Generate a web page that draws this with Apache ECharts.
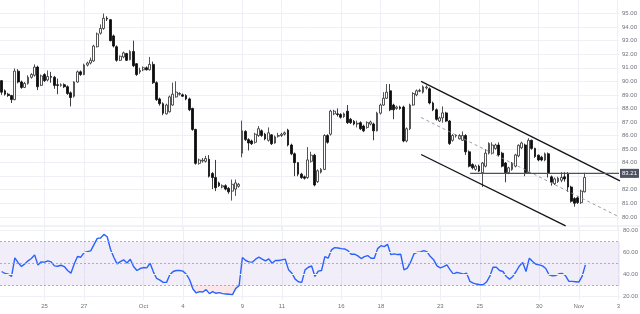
<!DOCTYPE html>
<html><head><meta charset="utf-8">
<script src="https://cdn.jsdelivr.net/npm/echarts@6/dist/echarts.min.js"></script>
<style>html,body{margin:0;padding:0;background:#fff}#c{width:640px;height:314px}</style>
</head><body><div id="c"></div>
<script>
// 4-hour candles, [open, close, low, high]
const ohlc = [
[90.05,89.2,89.0,90.1],[89.3,89.05,88.95,89.4],[89.05,88.95,88.85,89.15],[88.95,88.65,88.4,89.0],[88.65,90.75,88.6,90.95],
[90.75,89.95,89.85,90.9],[89.95,89.55,89.45,90.05],[89.55,89.85,89.5,89.95],[89.85,90.3,89.75,90.45],[90.3,90.5,90.2,90.6],
[90.45,91.05,90.35,91.25],[91.05,89.6,89.35,91.15],[89.7,90.4,89.65,90.5],
[90.5,90.05,89.95,90.6],[90.1,90.35,90.0,90.8],[90.35,90.3,89.9,90.7],[90.3,89.7,89.45,90.4],[89.75,89.7,89.05,90.2],[89.7,89.75,89.6,89.85],
[89.75,89.6,89.5,89.85],[89.6,89.1,89.0,89.7],[89.15,88.8,88.15,89.25],[88.9,89.95,88.8,90.0],[89.95,90.7,89.9,90.8],[90.7,90.5,90.4,90.8],
[90.5,91.2,90.45,91.3],[91.2,91.35,91.1,91.45],[91.35,91.55,91.25,91.75],[91.5,92.6,91.45,92.7],[92.55,93.5,92.5,93.6],[93.55,93.9,93.45,94.2],
[93.9,94.65,93.8,95.0],[94.65,94.6,94.45,94.8],[94.55,93.0,92.95,94.6],[93.35,92.6,92.5,93.45],[92.55,91.55,91.45,92.65],[91.55,91.85,91.5,91.9],
[91.8,92.1,91.7,92.2],[92.05,91.55,91.5,92.1],[91.6,92.2,91.55,92.3],[92.2,91.15,91.05,93.0],[91.3,90.5,90.4,91.35],[90.7,90.8,90.55,91.0],
[90.85,91.0,90.75,91.1],[91.0,90.85,90.8,91.1],[90.85,91.25,90.8,91.8],[91.25,89.9,89.8,91.45],[89.9,88.65,88.55,90.0],[88.7,88.35,88.2,88.8],
[88.35,87.65,87.5,88.45],[87.6,88.25,87.55,88.35],[87.75,88.85,87.7,88.95],[88.25,89.05,88.2,89.9],[88.85,89.2,88.8,90.0],[89.05,89.1,88.95,89.2],
[89.0,88.9,88.85,89.1],[88.95,88.7,88.6,89.05],[88.7,87.9,87.8,88.8],[88.0,86.45,86.35,88.05],[86.45,83.95,83.85,86.5],[83.95,84.2,83.85,84.3],
[84.12,84.18,84.0,84.35],[84.1,84.3,84.0,84.5],[84.25,83.0,82.9,84.55],[83.2,82.9,82.05,83.3],[82.9,82.15,81.9,84.2],[82.5,82.3,82.2,82.6],
[82.2,82.3,82.1,82.4],[82.3,82.05,81.95,82.4],[82.1,81.85,81.7,82.2],[81.9,82.4,81.2,82.75],[82.05,82.5,81.55,82.75],[82.25,82.4,82.15,82.5],
[84.7,86.35,84.4,87.1],[86.3,85.7,85.6,86.4],[85.7,85.45,84.9,85.8],[85.6,85.4,85.3,85.7],[85.5,86.1,85.4,86.2],[86.0,86.5,85.9,86.7],
[86.35,86.0,85.9,86.45],[86.1,85.75,85.65,86.2],[85.65,86.2,85.55,86.6],[86.05,85.4,85.3,86.1],[85.45,85.9,85.4,86.0],[85.95,86.0,85.85,86.2],
[86.0,86.1,85.9,86.2],[86.1,86.2,86.0,86.3],[86.4,85.3,85.2,86.5],[85.3,84.65,84.55,85.4],[84.65,84.0,83.0,84.75],[84.0,83.15,83.0,84.05],
[83.15,82.9,82.8,83.25],[82.95,82.85,82.75,83.05],[82.9,84.2,82.8,85.15],[84.1,84.55,84.0,84.8],[84.55,82.35,82.25,84.65],[82.6,83.4,82.5,83.5],
[83.3,83.5,83.2,83.6],[83.5,86.0,83.45,86.1],[86.0,85.5,85.4,86.1],[86.1,87.8,86.0,87.9],[87.6,87.8,87.5,87.9],[87.6,87.55,87.4,88.0],
[87.55,87.35,87.25,87.65],[87.4,87.6,87.3,87.7],[87.8,86.95,86.85,88.25],[87.2,86.95,86.85,87.3],[87.05,86.85,86.75,87.15],[86.85,86.9,86.6,87.1],
[86.95,86.5,86.4,87.05],[86.7,86.35,86.25,86.8],[86.6,86.95,86.5,87.05],[86.85,87.0,86.75,87.1],[86.85,86.35,85.65,86.95],[86.35,87.65,86.3,87.75],
[87.65,88.25,87.55,88.35],[88.25,88.75,88.2,89.2],[88.75,89.2,88.7,89.8],[89.3,87.9,87.8,89.8],[88.25,87.9,87.2,88.35],[88.0,88.1,87.9,88.2],
[88.1,88.0,87.9,88.2],[88.1,85.6,85.5,88.2],[85.6,86.5,85.5,86.6],[86.5,88.25,86.4,88.35],[88.25,89.1,88.2,89.2],[89.0,89.3,88.9,89.4],
[89.27,89.33,89.2,89.45],[89.2,89.6,89.1,89.7],[89.52,89.58,89.4,89.7],[89.45,88.4,88.3,89.55],[88.4,87.9,87.8,88.5],[87.9,87.2,87.1,88.0],
[87.07,87.3,87.0,87.4],[87.3,87.67,86.95,88.15],[87.67,87.07,87.0,87.75],[87.07,85.41,85.3,87.15],[85.65,86.0,85.55,86.1],[85.97,86.03,85.85,86.1],
[85.76,86.0,85.7,86.1],[85.65,86.0,85.6,86.3],[86.0,84.8,84.57,86.1],[84.8,83.74,83.65,84.9],[83.86,83.62,83.5,83.95],[83.5,83.74,83.4,83.85],
[83.74,83.38,83.3,83.85],[83.26,83.97,82.2,84.05],[83.74,84.7,83.65,85.0],[84.7,85.41,84.6,85.5],[84.7,85.3,84.6,85.5],[85.05,85.3,84.95,85.4],
[85.3,84.57,84.45,85.5],[84.7,83.74,83.65,84.8],[83.97,83.26,82.55,84.05],[83.26,83.62,83.15,83.7],[83.5,83.97,83.4,84.05],[83.74,84.57,83.65,84.65],
[84.5,85.28,84.4,85.35],[85.1,85.45,85.0,85.55],[85.3,83.26,83.0,85.4],[83.26,85.65,83.2,85.8],[85.65,85.05,84.95,85.7],[85.05,84.45,84.35,85.1],
[84.55,84.2,84.1,84.6],[84.4,84.2,84.1,84.5],[84.2,84.65,84.1,84.75],[84.65,83.2,82.9,84.75],[82.95,82.55,82.3,83.05],[82.45,82.8,82.35,82.9],
[82.6,82.85,82.5,82.95],[82.7,82.9,82.55,83.3],[82.95,82.8,82.6,83.3],[83.2,82.2,81.85,83.3],[82.2,81.15,81.05,82.3],[81.35,81.0,80.75,81.45],
[81.4,81.05,80.95,81.5],[81.05,81.9,80.95,82.0],[81.85,82.9,81.8,83.25]
];
const rsi = [
42.9,41.1,40.5,38.4,55.3,51.0,47.4,49.8,52.6,54.7,58.0,48.9,51.7,
51.4,52.6,51.7,48.0,47.7,48.6,47.4,43.8,41.4,49.8,56.5,55.9,
60.1,61.0,61.6,67.3,73.0,73.3,76.6,74.5,63.1,55.9,49.8,51.9,
53.5,50.7,54.1,47.4,43.8,45.6,46.5,46.2,50.4,42.6,36.6,35.1,
33.0,33.0,39.9,42.9,43.8,43.8,43.2,40.5,35.4,27.0,23.4,24.6,
24.3,26.4,22.8,24.6,23.1,23.7,22.8,22.5,22.2,21.9,27.6,30.0,
55.6,52.9,51.7,51.4,54.1,55.9,54.1,52.6,54.4,50.4,52.9,52.9,
53.5,54.1,44.4,41.4,36.0,33.6,33.0,44.4,46.8,47.9,38.4,43.2,
43.8,56.5,55.0,62.5,64.6,64.3,63.7,63.4,61.9,58.6,58.6,57.1,
54.7,56.5,57.4,55.0,55.0,63.7,66.4,65.5,67.6,58.3,58.9,58.3,
58.6,44.4,45.9,51.4,58.9,60.4,60.7,61.9,60.7,56.5,53.5,48.0,
46.2,47.4,48.9,44.4,40.5,42.0,41.4,40.5,41.4,33.9,32.4,31.5,
30.9,30.9,33.3,38.4,46.8,46.8,43.8,42.9,38.4,36.0,38.4,42.9,
48.0,51.0,42.9,55.0,52.0,49.5,48.9,48.0,45.6,39.9,39.0,39.3,
40.8,41.1,39.0,33.9,33.9,33.6,33.3,38.4,48.9
];
// time-axis labels: [bar index, text]
const dayTicks = [[13,'25'],[25,'27'],[43,'Oct'],[55,'4'],[73,'9'],[85,'11'],[103,'16'],[115,'18'],[133,'23'],[145,'25'],[163,'30'],[175,'Nov'],[187,'3']];
const slotCount = 188;
// drawn annotations: [bar index, price]
const channelTop = [[127.4, 89.99],[187.8, 82.66]];
const channelMid = [[127.4, 87.33],[187.5, 80.0]];
const channelBot = [[127.4, 84.6],[171.3, 79.33]];
const lastPrice = 83.21;
const levelLine = [[142.3, lastPrice],[187.5, lastPrice]];
const rsiGuides = [70, 50, 30];
const rsiTicks = [20, 40, 60, 80];
const oversold = 30;

const cats = Array.from({length: slotCount}, (_, i) => String(i));
const tickMap = {};
dayTicks.forEach(([i, l]) => { tickMap[i] = l; });
const isTick = (i) => tickMap[i] !== undefined;
const gridColor = '#eef0f5';
const font = 'Liberation Sans, Arial, sans-serif';
const lab = {color: '#6f727c', fontSize: 6, fontFamily: font};

const osBase = rsi.map(v => Math.min(v, oversold));
const osFill = rsi.map(v => oversold - Math.min(v, oversold));

const chart = echarts.init(document.getElementById('c'), null, {renderer: 'canvas', width: 640, height: 314});
chart.setOption({
  animation: false,
  backgroundColor: '#ffffff',
  grid: [
    {left: 0, right: 20, top: -8.45, height: 238.85},
    {left: 0, right: 20, top: 226, height: 74}
  ],
  xAxis: [
    {type: 'category', gridIndex: 0, data: cats, boundaryGap: true,
     axisLine: {show: false}, axisTick: {show: false}, axisLabel: {show: false},
     splitLine: {show: true, interval: (i) => isTick(i), alignWithLabel: true, lineStyle: {color: gridColor, width: 1}}},
    {type: 'value', gridIndex: 0, min: -0.5, max: slotCount - 0.5, show: false},
    {type: 'category', gridIndex: 1, data: cats, boundaryGap: true,
     axisLine: {show: false}, axisTick: {show: false},
     axisLabel: Object.assign({interval: (i) => isTick(i), formatter: (v, i) => tickMap[i] || '', margin: 3}, lab),
     splitLine: {show: true, interval: (i) => isTick(i), alignWithLabel: true, lineStyle: {color: gridColor, width: 1}}}
  ],
  yAxis: [
    {type: 'value', gridIndex: 0, position: 'right', min: 79, max: 96, interval: 1,
     axisLine: {show: false}, axisTick: {show: false},
     axisLabel: Object.assign({margin: 3, showMinLabel: false, showMaxLabel: false, formatter: (v) => v.toFixed(2)}, lab),
     splitLine: {show: true, showMinLine: false, showMaxLine: false, lineStyle: {color: gridColor, width: 1}}},
    {type: 'value', gridIndex: 1, position: 'right', min: 17, max: 84.27,
     axisLine: {show: false}, axisTick: {show: false}, axisLabel: {show: false}, splitLine: {show: false}}
  ],
  graphic: [
    {type: 'line', shape: {x1: 0, y1: 226, x2: 640, y2: 226}, style: {stroke: '#e3e5ea', lineWidth: 1}, z: 0, silent: true}
  ],
  series: [
    {type: 'candlestick', xAxisIndex: 0, yAxisIndex: 0, data: ohlc, barWidth: '70%',
     itemStyle: {color: '#ffffff', color0: '#0c0c0c', borderColor: '#2a2a2a', borderColor0: '#0c0c0c', borderWidth: 0.8}},
    {type: 'line', xAxisIndex: 1, yAxisIndex: 0, data: channelTop, symbol: 'none', silent: true,
     lineStyle: {color: '#131313', width: 1.3}},
    {type: 'line', xAxisIndex: 1, yAxisIndex: 0, data: channelMid, symbol: 'none', silent: true,
     lineStyle: {color: '#8d9099', width: 0.9, type: [3, 3]}},
    {type: 'line', xAxisIndex: 1, yAxisIndex: 0, data: channelBot, symbol: 'none', silent: true,
     lineStyle: {color: '#131313', width: 1.3}},
    {type: 'line', xAxisIndex: 1, yAxisIndex: 0, data: levelLine, symbol: 'none', silent: true, clip: false,
     lineStyle: {color: '#4d5160', width: 1.2},
     endLabel: {show: true, formatter: lastPrice.toFixed(2), backgroundColor: '#4d5160', color: '#ffffff',
       fontSize: 6, fontFamily: font, padding: [2, 2, 1, 2], distance: 1}},
    {type: 'line', xAxisIndex: 2, yAxisIndex: 1, data: osBase, stack: 'os', symbol: 'none', silent: true,
     lineStyle: {width: 0, opacity: 0},
     markArea: {silent: true, itemStyle: {color: 'rgba(126,87,194,0.10)'}, data: [[{yAxis: 30}, {yAxis: 70}]]},
     markLine: {silent: true, symbol: ['none', 'none'], animation: false,
       data: rsiTicks.map(v => ({yAxis: v, lineStyle: {type: 'solid', color: gridColor, width: 1},
         label: Object.assign({show: true, position: 'end', distance: 3, formatter: v.toFixed(2)}, lab)}))
         .concat(rsiGuides.map(v => ({yAxis: v, lineStyle: {type: [2, 2], color: '#9b9ea7', width: 0.8}, label: {show: false}})))}},
    {type: 'line', xAxisIndex: 2, yAxisIndex: 1, data: osFill, stack: 'os', symbol: 'none', silent: true,
     lineStyle: {width: 0, opacity: 0}, areaStyle: {color: 'rgba(242,54,69,0.18)'}},
    {type: 'line', xAxisIndex: 2, yAxisIndex: 1, data: rsi, symbol: 'none', silent: true,
     lineStyle: {color: '#2962ff', width: 1.4}}
  ]
});
</script></body></html>
